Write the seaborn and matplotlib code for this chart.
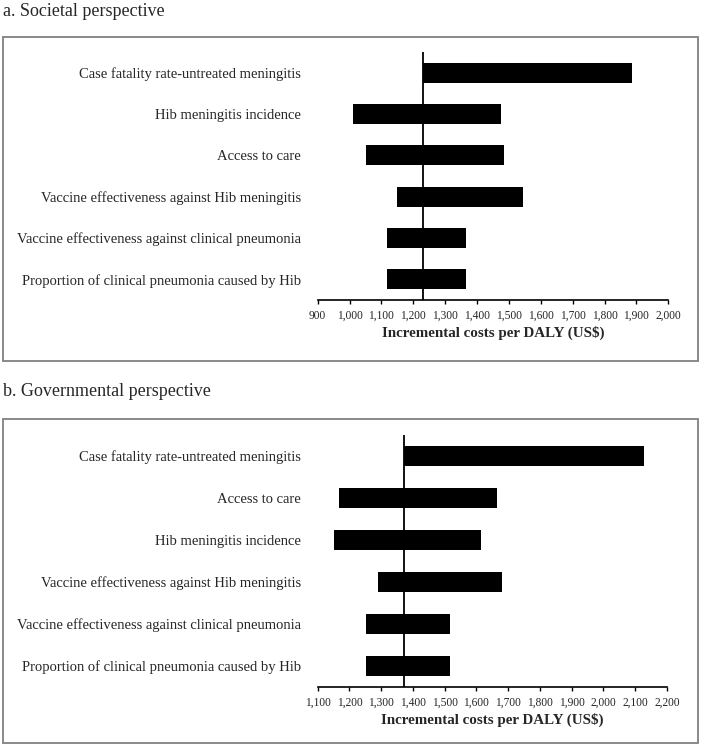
import numpy as np
import pandas as pd
import seaborn as sns
import matplotlib.pyplot as plt
from matplotlib.patches import Rectangle
from matplotlib.ticker import FuncFormatter

# panel a: societal perspective
soc_params = ['Case fatality rate-untreated meningitis',
              'Hib meningitis incidence',
              'Access to care',
              'Vaccine effectiveness against Hib meningitis',
              'Vaccine effectiveness against clinical pneumonia',
              'Proportion of clinical pneumonia caused by Hib']
soc_low = [1231, 1010, 1053, 1150, 1118, 1118]
soc_high = [1887, 1476, 1484, 1543, 1364, 1364]
soc_base = 1231

# panel b: governmental perspective
gov_params = ['Case fatality rate-untreated meningitis',
              'Access to care',
              'Hib meningitis incidence',
              'Vaccine effectiveness against Hib meningitis',
              'Vaccine effectiveness against clinical pneumonia',
              'Proportion of clinical pneumonia caused by Hib']
gov_low = [1372, 1166, 1152, 1291, 1251, 1251]
gov_high = [2129, 1665, 1613, 1680, 1516, 1516]
gov_base = 1372

sns.set_theme(style='white')
plt.rcParams['font.family'] = ['Liberation Serif', 'DejaVu Serif']

fig = plt.figure(figsize=(7.01, 7.5), dpi=100)


def tornado(ax, params, low, high, base, xlim, step):
    df = pd.DataFrame({'param': params, 'low': low, 'high': high})
    sns.barplot(data=df, x='high', y='param', orient='h', color='black',
                width=0.49, linewidth=0, saturation=1, ax=ax)
    # white bars up to the low value leave only the swing range visible
    sns.barplot(data=df, x='low', y='param', orient='h', color='white',
                width=0.5, linewidth=0, saturation=1, ax=ax)
    ax.axvline(base, color='black', lw=1.3, zorder=5)
    ax.set_xlim(xlim)
    ax.set_ylim(5.5, -0.5)
    ax.set_xticks(np.arange(xlim[0], xlim[1] + 1, step))
    ax.xaxis.set_major_formatter(FuncFormatter(lambda v, p: f'{int(v):,}'))
    ax.tick_params(axis='x', direction='out', length=3, width=1, labelsize=8.3,
                   pad=4, bottom=True, color='black')
    ax.tick_params(axis='y', length=0, labelsize=10.5, pad=12)
    for s in ['top', 'right', 'left']:
        ax.spines[s].set_visible(False)
    ax.spines['bottom'].set_color('black')
    ax.spines['bottom'].set_linewidth(1.2)
    ax.set_ylabel('')
    ax.set_xlabel('Incremental costs per DALY (US$)', fontsize=10.8,
                  fontweight='bold', labelpad=3)
    ax.set_facecolor('none')


# frames around the panels
for y0, y1 in [(37, 361), (419, 743)]:
    fig.patches.append(Rectangle((3 / 701, 1 - y1 / 750), 695 / 701, (y1 - y0) / 750,
                                 transform=fig.transFigure, fill=False,
                                 edgecolor='#808080', lw=1.3))

fig.text(3 / 701, 1 - 12 / 750, 'a. Societal perspective', fontsize=13, va='center')
fig.text(3 / 701, 1 - 392 / 750, 'b. Governmental perspective', fontsize=13, va='center')

ax1 = fig.add_axes([317.7 / 701, 1 - 300 / 750, 350.6 / 701, 248 / 750])
tornado(ax1, soc_params, soc_low, soc_high, soc_base, (900, 2000), 100)

ax2 = fig.add_axes([317.7 / 701, 1 - 687 / 750, 349.3 / 701, 252 / 750])
tornado(ax2, gov_params, gov_low, gov_high, gov_base, (1100, 2200), 100)

fig.savefig('out.png', dpi=100)
